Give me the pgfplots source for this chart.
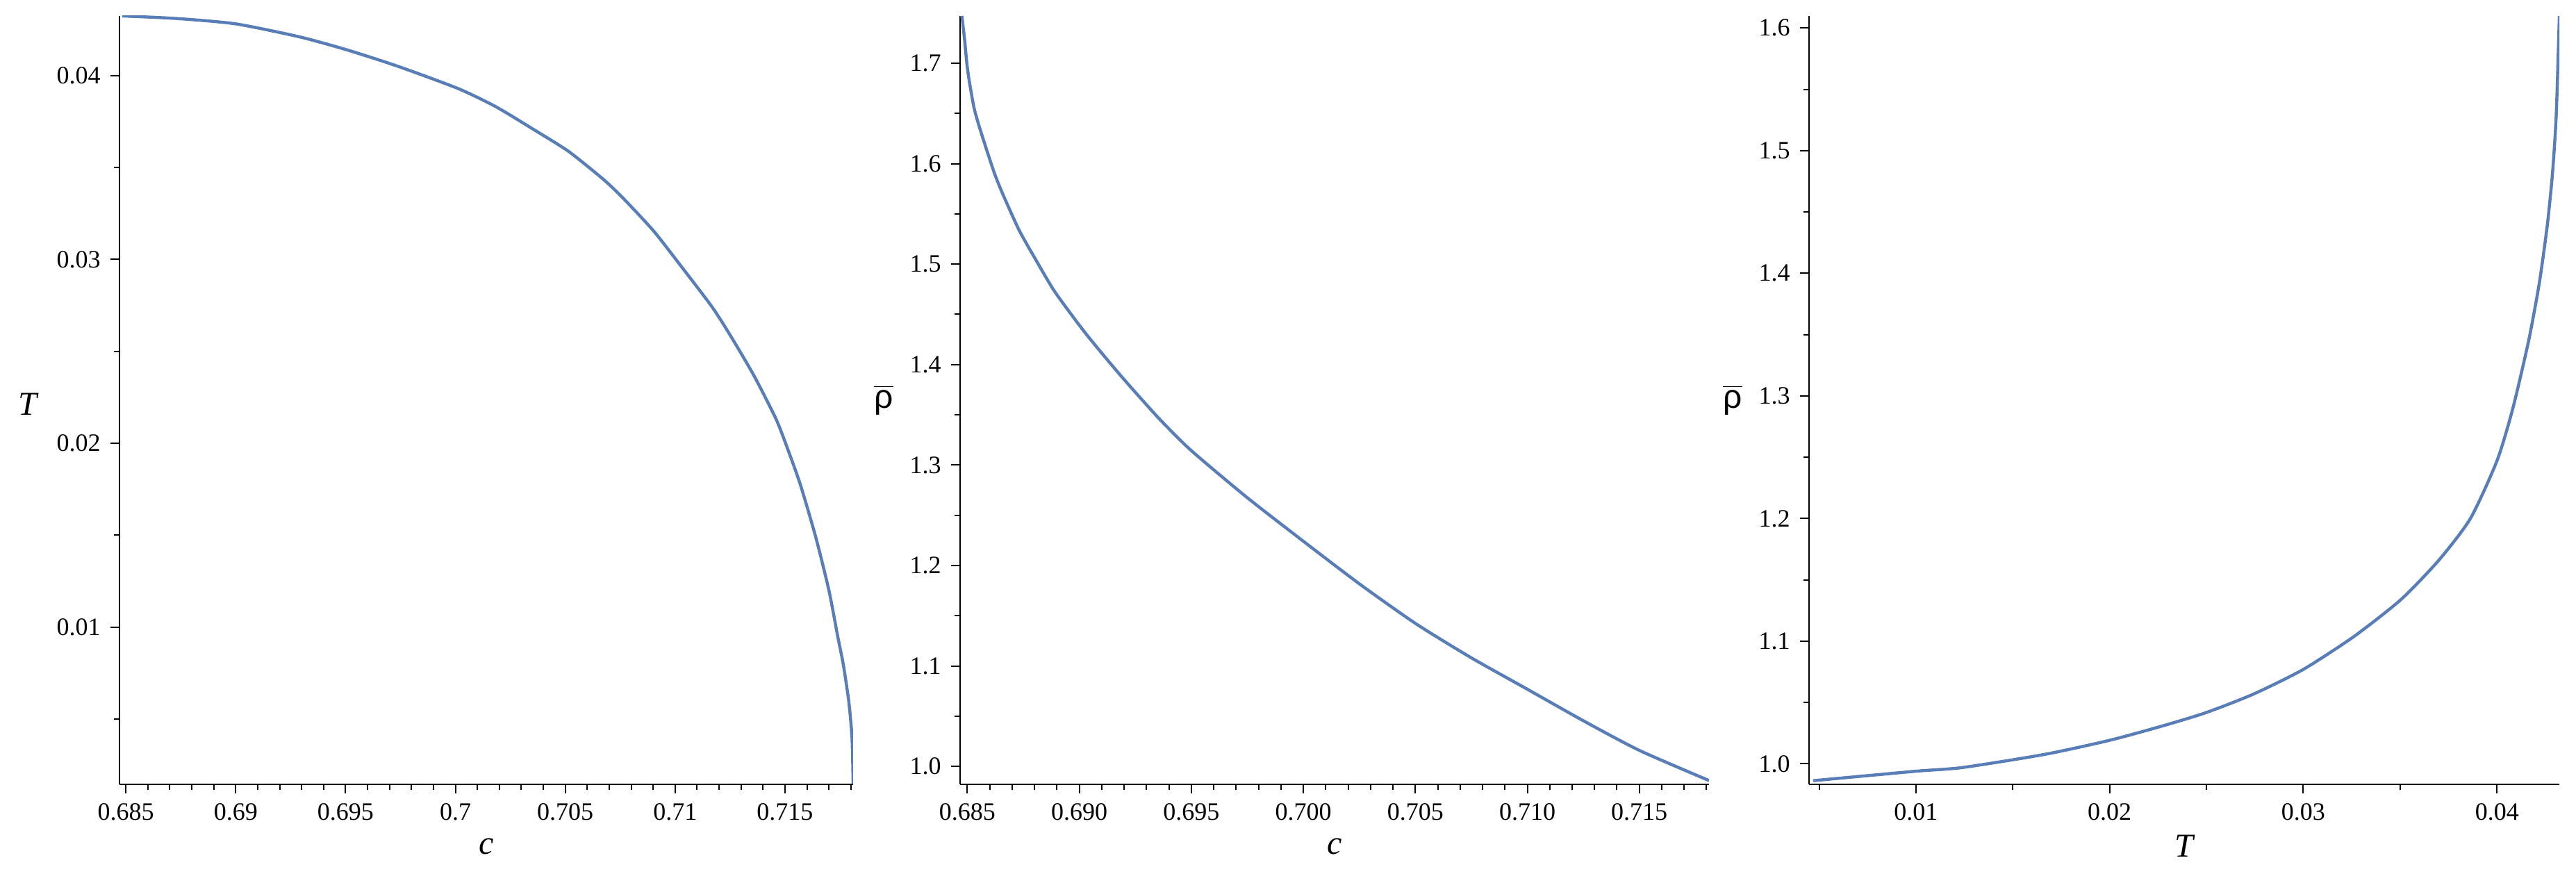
\documentclass[border=0pt]{standalone}
\usepackage{fontspec}
\setmainfont{Liberation Serif}
\newfontfamily\symfont{Liberation Sans}
\usepackage{pgfplots}
\pgfplotsset{compat=1.18}
\definecolor{curve}{RGB}{88,125,183}
\pgfplotsset{
  panel/.style={
    scale only axis,
    height=276.5pt,
    anchor=south west,
    axis lines*=left,
    axis line style={-, line width=0.55pt, black},
    tick align=outside,
    major tick length=3.3pt,
    minor tick length=1.9pt,
    every tick/.style={black, line width=0.5pt},
    scaled ticks=false,
    tick label style={font=\fontsize{9}{10}\selectfont},
    /pgf/number format/assume math mode=true,
    label style={font=\fontsize{12}{14}\selectfont},
    xlabel style={at={(axis description cs:0.5,0)}, anchor=center, yshift=-22.25pt},
  },
  curve/.style={color=curve, line width=1.1pt, no markers, smooth, tension=0.4},
}
\begin{document}
\begin{tikzpicture}
\path[use as bounding box] (0pt,0pt) rectangle (927pt,317.75pt);
% Panel 1: T vs c
\begin{axis}[panel, at={(43pt,35.5pt)}, width=264pt,
  xmin=0.68471, xmax=0.71810, ymin=0.00146, ymax=0.04323,
  xtick={0.685,0.69,0.695,0.7,0.705,0.71,0.715},
  minor xtick={0.686,0.687,0.688,0.689,0.691,0.692,0.693,0.694,0.696,0.697,0.698,0.699,0.701,0.702,0.703,0.704,0.706,0.707,0.708,0.709,0.711,0.712,0.713,0.714,0.716,0.717,0.718},
  ytick={0.01,0.02,0.03,0.04},
  minor ytick={0.005,0.015,0.025,0.035},
  xticklabel style={/pgf/number format/.cd, fixed, precision=3},
  yticklabel style={/pgf/number format/.cd, fixed, precision=2},
  xlabel={\itshape c}, ylabel={\itshape T},
  ylabel style={at={(axis description cs:-0.125,0.495)}, rotate=-90, anchor=center},
]
\addplot[curve] coordinates {
(0.68484,0.04323) (0.68734,0.04309) (0.69000,0.04280) (0.69292,0.04209)
(0.69511,0.04137) (0.69739,0.04049) (0.70011,0.03929) (0.70185,0.03829)
(0.70364,0.03700) (0.70516,0.03586) (0.70676,0.03432) (0.70766,0.03329)
(0.70900,0.03157) (0.71007,0.02994) (0.71167,0.02743) (0.71257,0.02575)
(0.71360,0.02365) (0.71460,0.02130) (0.71515,0.01960) (0.71570,0.01775)
(0.71640,0.01490) (0.71700,0.01200) (0.71740,0.00950) (0.71765,0.00800)
(0.71790,0.00600) (0.71805,0.00400) (0.71810,0.00150)
};
\end{axis}
% Panel 2: rho vs c
\begin{axis}[panel, at={(345.5pt,35.5pt)}, width=269.5pt,
  xmin=0.68468, xmax=0.71811, ymin=0.9822, ymax=1.747,
  xtick={0.685,0.69,0.695,0.7,0.705,0.71,0.715},
  minor xtick={0.686,0.687,0.688,0.689,0.691,0.692,0.693,0.694,0.696,0.697,0.698,0.699,0.701,0.702,0.703,0.704,0.706,0.707,0.708,0.709,0.711,0.712,0.713,0.714,0.716,0.717,0.718},
  ytick={1.0,1.1,1.2,1.3,1.4,1.5,1.6,1.7},
  minor ytick={1.05,1.15,1.25,1.35,1.45,1.55,1.65},
  xticklabel style={/pgf/number format/.cd, fixed, fixed zerofill, precision=3},
  yticklabel style={/pgf/number format/.cd, fixed, fixed zerofill, precision=1},
  xlabel={\itshape c}, ylabel={$\overline{\mbox{\symfont ρ}}$},
  ylabel style={at={(axis description cs:-0.102,0.5)}, rotate=-90, anchor=center},
]
\addplot[curve] coordinates {
(0.68476,1.747) (0.68488,1.7235) (0.68498,1.700) (0.68508,1.6835)
(0.68529,1.6568) (0.68550,1.6395) (0.68586,1.6141) (0.68622,1.590)
(0.68658,1.570) (0.68731,1.534) (0.68808,1.5035) (0.68886,1.4741)
(0.68968,1.4488) (0.69041,1.4275) (0.69185,1.3890) (0.69351,1.3475)
(0.69497,1.315) (0.69750,1.2675) (0.70007,1.223) (0.70255,1.181)
(0.70503,1.142) (0.70751,1.108) (0.70999,1.077) (0.71250,1.0455)
(0.71500,1.016) (0.71811,0.986)
};
\end{axis}
% Panel 3: rho vs T
\begin{axis}[panel, at={(651pt,35.5pt)}, width=270pt,
  xmin=0.00448, xmax=0.04322, ymin=0.9833, ymax=1.6098,
  xtick={0.01,0.02,0.03,0.04},
  minor xtick={0.005,0.015,0.025,0.035},
  ytick={1.0,1.1,1.2,1.3,1.4,1.5,1.6},
  minor ytick={1.05,1.15,1.25,1.35,1.45,1.55},
  xticklabel style={/pgf/number format/.cd, fixed, precision=2},
  yticklabel style={/pgf/number format/.cd, fixed, fixed zerofill, precision=1},
  xlabel={\itshape T}, ylabel={$\overline{\mbox{\symfont ρ}}$},
  ylabel style={at={(axis description cs:-0.102,0.5)}, rotate=-90, anchor=center},
]
\addplot[curve] coordinates {
(0.00470,0.9863) (0.01000,0.9940) (0.01240,0.9970) (0.01664,1.0077)
(0.02000,1.0192) (0.02279,1.0312) (0.02500,1.0419) (0.02743,1.0569)
(0.03000,1.0770) (0.03262,1.1039) (0.03503,1.1338) (0.03699,1.1659)
(0.03863,1.2001) (0.04000,1.2471) (0.04082,1.2899) (0.04164,1.3454)
(0.04219,1.3925) (0.04260,1.4395) (0.04287,1.4823) (0.04306,1.5293)
(0.04322,1.6097)
};
\end{axis}
\end{tikzpicture}
\end{document}
